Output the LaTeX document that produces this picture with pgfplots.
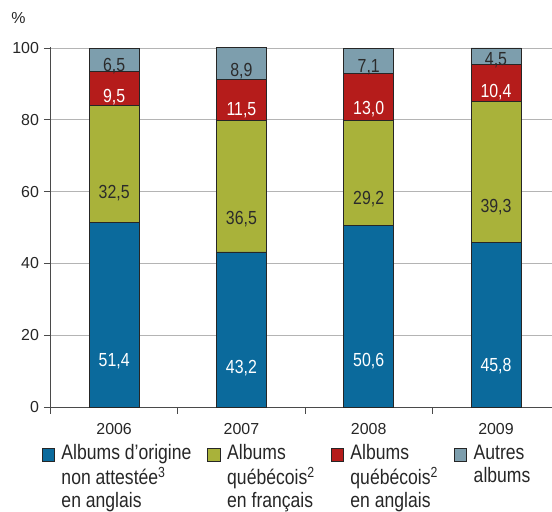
\documentclass[border=0pt]{standalone}
\usepackage{fontspec}
\setmainfont{Liberation Sans}
\newfontfamily\condfont{Liberation Sans}[FakeStretch=0.84]
\usepackage{pgfplots}
\usepackage{pgfplotstable}
\pgfplotsset{compat=1.18}

\definecolor{cBlue}{HTML}{0B6A9C}
\definecolor{cOlive}{HTML}{A9B23A}
\definecolor{cRed}{HTML}{B51C1B}
\definecolor{cGrey}{HTML}{7D9EAD}
\definecolor{axisgray}{HTML}{4A4A4A}
\definecolor{gridgray}{HTML}{B4B4B4}
\definecolor{labeldark}{HTML}{2B2B2B}

% Parts of albums sold, by origin (percent)
\pgfplotstableread{
x  orig  qcfr  qcen  autres
0  51.4  32.5  9.5   6.5
1  43.2  36.5  11.5  8.9
2  50.6  29.2  13.0  7.1
3  45.8  39.3  10.4  4.5
}\albums

\newcommand{\legtext}[1]{\begin{tabular}[t]{@{}l@{}}#1\end{tabular}}

\begin{document}
\begin{tikzpicture}
\begin{axis}[
  at={(0,0)}, anchor=south west,
  scale only axis, width=501.5bp, height=359.54bp,
  ybar stacked, bar width=50bp,
  xmin=-0.5, xmax=3.44, ymin=0, ymax=100.15,
  axis x line*=bottom, axis y line*=left,
  axis line style={-, draw=axisgray, line width=0.8bp},
  ytick={0,20,...,100},
  ymajorgrids, grid style={draw=gridgray, line width=0.8bp},
  xtick={-0.5,0.5,1.5,2.5}, xticklabels={},
  extra x ticks={0,1,2,3}, extra x tick labels={2006,2007,2008,2009},
  extra x tick style={major tick length=0pt, grid=none},
  tick align=outside, major tick length=6.5bp,
  tick style={draw=axisgray, line width=0.8bp},
  ticklabel style={font=\fontsize{16}{19}\selectfont, text=black!85},
  xticklabel style={yshift=-13bp},
  yticklabel style={xshift=-1.5bp},
  /pgf/number format/assume math mode=true,
  ylabel={\%},
  ylabel style={rotate=-90, at={(axis description cs:-0.064,1.081)}, anchor=center,
    font=\fontsize{16}{19}\selectfont, text=black!85},
  nodes near coords={\pgfmathprintnumber[fixed,fixed zerofill,precision=1,use comma]{\pgfplotspointmeta}},
  every node near coord/.append style={anchor=center, yshift=-0.9009*\segval,
    font=\condfont\fontsize{19}{22}\selectfont},
  legend columns=4,
  legend style={at={(axis description cs:0,0)}, anchor=north west,
    xshift=-8.8bp, yshift=-36.9bp, draw=none, fill=none, inner sep=0pt, outer sep=0pt,
    nodes={inner sep=0pt, outer sep=0pt, font=\condfont\fontsize{21}{23}\selectfont, text=black!85},
    cells={anchor=base west},
    /tikz/every odd column/.append style={column sep=6.5bp},
    /tikz/every even column/.append style={column sep=16bp}},
  legend image code/.code={\draw[#1, draw=black!85, line width=0.8bp] (0bp,-1bp) rectangle (12.5bp,11.5bp);},
]
\addplot[fill=cBlue, draw=black!85, line width=0.8bp,
  point meta=\thisrow{orig}, visualization depends on={\thisrow{orig} \as \segval},
  every node near coord/.append style={text=white}]
  table[x=x, y=orig] {\albums};
\addplot[fill=cOlive, draw=black!85, line width=0.8bp,
  point meta=\thisrow{qcfr}, visualization depends on={\thisrow{qcfr} \as \segval},
  every node near coord/.append style={text=labeldark}]
  table[x=x, y=qcfr] {\albums};
\addplot[fill=cRed, draw=black!85, line width=0.8bp,
  point meta=\thisrow{qcen}, visualization depends on={\thisrow{qcen} \as \segval},
  every node near coord/.append style={text=white}]
  table[x=x, y=qcen] {\albums};
\addplot[fill=cGrey, draw=black!85, line width=0.8bp,
  point meta=\thisrow{autres}, visualization depends on={\thisrow{autres} \as \segval},
  every node near coord/.append style={text=labeldark}]
  table[x=x, y=autres] {\albums};
\legend{\legtext{Albums d’origine\\non attestée\textsuperscript{3}\\en anglais},
        \legtext{Albums\\québécois\textsuperscript{2}\\en français},
        \legtext{Albums\\québécois\textsuperscript{2}\\en anglais},
        \legtext{Autres\\albums}}
\end{axis}
\pgfresetboundingbox
\path[use as bounding box] (-50.5bp,-105bp) rectangle (501.5bp,407bp);
\end{tikzpicture}
\end{document}
